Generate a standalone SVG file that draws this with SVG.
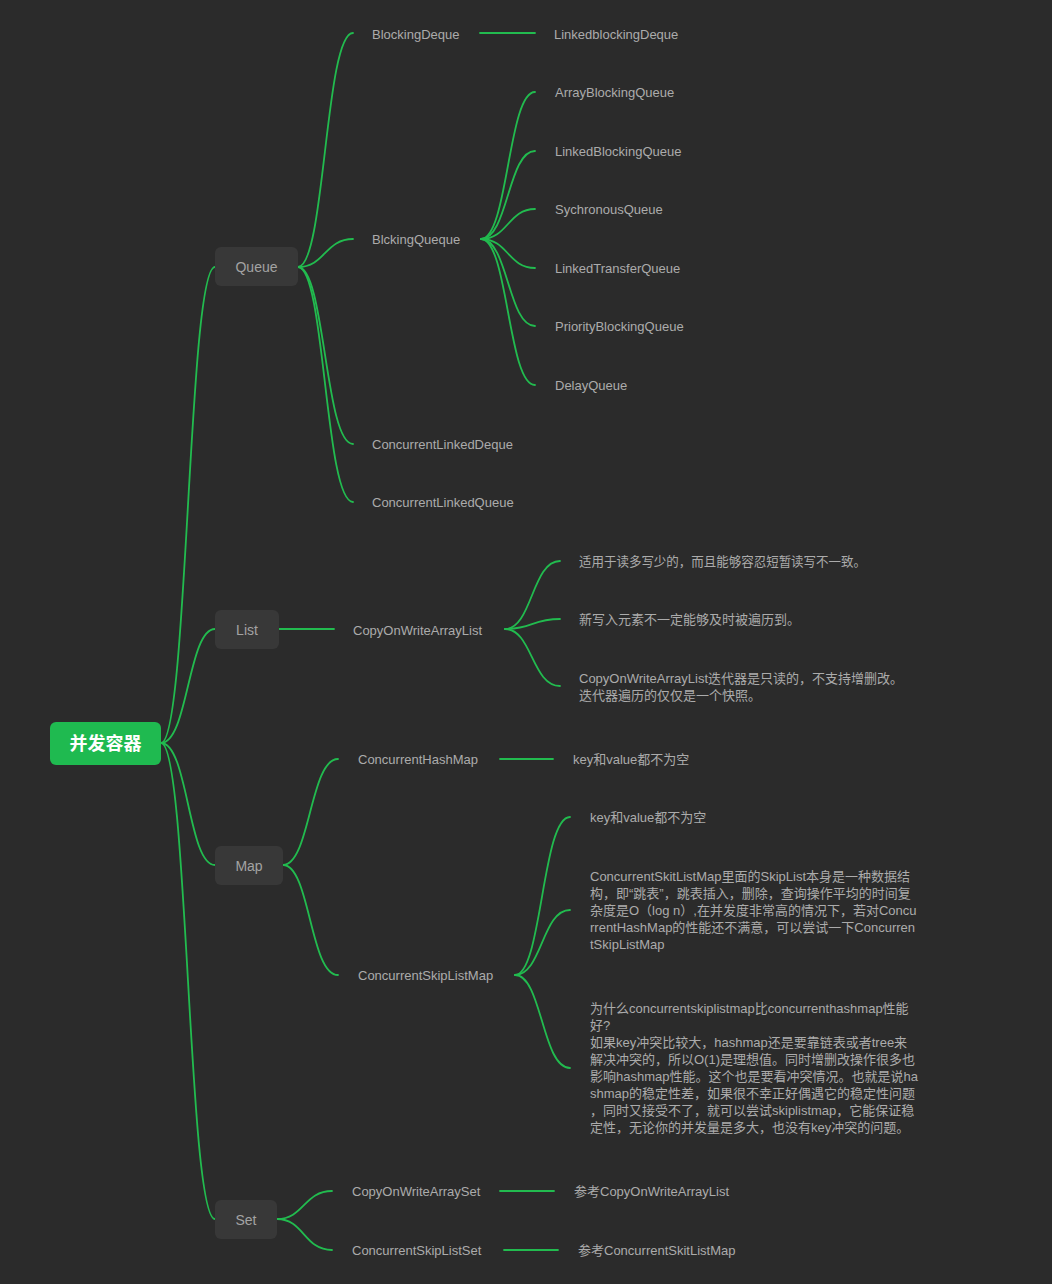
<svg xmlns="http://www.w3.org/2000/svg" width="1052" height="1284" viewBox="0 0 1052 1284">
<style>
.bg{fill:#2b2b2b}
.e{fill:none;stroke:#22bb4f;stroke-width:1.8;stroke-linecap:round}
.box{fill:#383838}
.lbl{font-family:"Liberation Sans","Noto Sans CJK SC",sans-serif;font-size:14px;fill:#a3a3a3}
.t{font-family:"Liberation Sans","Noto Sans CJK SC",sans-serif;font-size:13px;fill:#ababab}
.root{font-family:"Liberation Sans","Noto Sans CJK SC",sans-serif;font-size:18px;font-weight:bold;fill:#ffffff}
</style>
<rect class="bg" x="0" y="0" width="1052" height="1284"/>
<g id="connectors">
<path class="e" d="M161,743 C188,743 188,267 215,267"/>
<path class="e" d="M161,743 C188,743 188,629 215,629"/>
<path class="e" d="M161,743 C188,743 188,865 215,865"/>
<path class="e" d="M161,743 C188,743 188,1219 215,1219"/>
<path class="e" d="M298,267 C325,267 325,33 353,33"/>
<path class="e" d="M298,267 C325,267 325,239 353,239"/>
<path class="e" d="M298,267 C325,267 325,444 353,444"/>
<path class="e" d="M298,267 C325,267 325,502 353,502"/>
<path class="e" d="M480,33 L535,33"/>
<path class="e" d="M481,239 C508,239 508,92 535,92"/>
<path class="e" d="M481,239 C508,239 508,151 535,151"/>
<path class="e" d="M481,239 C508,239 508,209 535,209"/>
<path class="e" d="M481,239 C508,239 508,268 535,268"/>
<path class="e" d="M481,239 C508,239 508,326 535,326"/>
<path class="e" d="M481,239 C508,239 508,385 535,385"/>
<path class="e" d="M279,629 L334,629"/>
<path class="e" d="M505,629 C532,629 532,561 560,561"/>
<path class="e" d="M505,629 C532,629 532,619 560,619"/>
<path class="e" d="M505,629 C532,629 532,686 560,686"/>
<path class="e" d="M283,865 C310,865 310,759 338,759"/>
<path class="e" d="M283,865 C310,865 310,975 338,975"/>
<path class="e" d="M500,759 L553,759"/>
<path class="e" d="M515,975 C542,975 542,817 570,817"/>
<path class="e" d="M515,975 C542,975 542,910 570,910"/>
<path class="e" d="M515,975 C542,975 542,1068 570,1068"/>
<path class="e" d="M277,1219 C304,1219 304,1191 332,1191"/>
<path class="e" d="M277,1219 C304,1219 304,1250 332,1250"/>
<path class="e" d="M500,1191 L554,1191"/>
<path class="e" d="M504,1250 L558,1250"/>
</g>
<g id="root">
<rect x="50" y="722" width="111" height="43" rx="6" fill="#1fba50"/>
<text class="root" x="105.5" y="744" text-anchor="middle" dominant-baseline="central">并发容器</text>
</g>
<g id="queue">
<rect class="box" x="215" y="247" width="83" height="39" rx="6"/>
<text class="lbl" x="256.5" y="267" text-anchor="middle" dominant-baseline="central">Queue</text>
</g>
<g id="list">
<rect class="box" x="215" y="610" width="64" height="39" rx="6"/>
<text class="lbl" x="247" y="630" text-anchor="middle" dominant-baseline="central">List</text>
</g>
<g id="map">
<rect class="box" x="215" y="846" width="68" height="39" rx="6"/>
<text class="lbl" x="249" y="866" text-anchor="middle" dominant-baseline="central">Map</text>
</g>
<g id="set">
<rect class="box" x="215" y="1200" width="62" height="39" rx="6"/>
<text class="lbl" x="246" y="1220" text-anchor="middle" dominant-baseline="central">Set</text>
</g>
<g id="blockingdeque"><text class="t" x="372" y="34" dominant-baseline="central">BlockingDeque</text></g>
<g id="linkedblockingdeque"><text class="t" x="554" y="34" dominant-baseline="central">LinkedblockingDeque</text></g>
<g id="blckingqueue"><text class="t" x="372" y="239" dominant-baseline="central">BlckingQueque</text></g>
<g id="arrayblockingqueue"><text class="t" x="555" y="92" dominant-baseline="central">ArrayBlockingQueue</text></g>
<g id="linkedblockingqueue"><text class="t" x="555" y="151" dominant-baseline="central">LinkedBlockingQueue</text></g>
<g id="sychronousqueue"><text class="t" x="555" y="209" dominant-baseline="central">SychronousQueue</text></g>
<g id="linkedtransferqueue"><text class="t" x="555" y="268" dominant-baseline="central">LinkedTransferQueue</text></g>
<g id="priorityblockingqueue"><text class="t" x="555" y="326" dominant-baseline="central">PriorityBlockingQueue</text></g>
<g id="delayqueue"><text class="t" x="555" y="385" dominant-baseline="central">DelayQueue</text></g>
<g id="concurrentlinkeddeque"><text class="t" x="372" y="444" dominant-baseline="central">ConcurrentLinkedDeque</text></g>
<g id="concurrentlinkedqueue"><text class="t" x="372" y="502" dominant-baseline="central">ConcurrentLinkedQueue</text></g>
<g id="copyonwritearraylist"><text class="t" x="353" y="630" dominant-baseline="central">CopyOnWriteArrayList</text></g>
<g id="list-note1"><text class="t" x="579" y="561" dominant-baseline="central" textLength="287" lengthAdjust="spacingAndGlyphs">适用于读多写少的，而且能够容忍短暂读写不一致。</text></g>
<g id="list-note2"><text class="t" x="579" y="619" dominant-baseline="central">新写入元素不一定能够及时被遍历到。</text></g>
<g id="list-note3"><text class="t" dominant-baseline="central"><tspan x="579" y="678">CopyOnWriteArrayList迭代器是只读的，不支持增删改。</tspan><tspan x="579" y="695">迭代器遍历的仅仅是一个快照。</tspan></text></g>
<g id="concurrenthashmap"><text class="t" x="358" y="759" dominant-baseline="central">ConcurrentHashMap</text></g>
<g id="chm-note"><text class="t" x="573" y="759" dominant-baseline="central">key和value都不为空</text></g>
<g id="concurrentskiplistmap"><text class="t" x="358" y="975" dominant-baseline="central">ConcurrentSkipListMap</text></g>
<g id="cslm-note1"><text class="t" x="590" y="817" dominant-baseline="central">key和value都不为空</text></g>
<g id="cslm-note2"><text class="t" dominant-baseline="central"><tspan x="590" y="876">ConcurrentSkitListMap里面的SkipList本身是一种数据结</tspan><tspan x="590" y="893">构，即“跳表”，跳表插入，删除，查询操作平均的时间复</tspan><tspan x="590" y="910">杂度是O（log n）,在并发度非常高的情况下，若对Concu</tspan><tspan x="590" y="927">rrentHashMap的性能还不满意，可以尝试一下Concurren</tspan><tspan x="590" y="944">tSkipListMap</tspan></text></g>
<g id="cslm-note3"><text class="t" dominant-baseline="central"><tspan x="590" y="1008">为什么concurrentskiplistmap比concurrenthashmap性能</tspan><tspan x="590" y="1025">好?</tspan><tspan x="590" y="1042">如果key冲突比较大，hashmap还是要靠链表或者tree来</tspan><tspan x="590" y="1059">解决冲突的，所以O(1)是理想值。同时增删改操作很多也</tspan><tspan x="590" y="1076">影响hashmap性能。这个也是要看冲突情况。也就是说ha</tspan><tspan x="590" y="1093">shmap的稳定性差，如果很不幸正好偶遇它的稳定性问题</tspan><tspan x="590" y="1110">，同时又接受不了，就可以尝试skiplistmap，它能保证稳</tspan><tspan x="590" y="1127">定性，无论你的并发量是多大，也没有key冲突的问题。</tspan></text></g>
<g id="copyonwritearrayset"><text class="t" x="352" y="1191" dominant-baseline="central">CopyOnWriteArraySet</text></g>
<g id="cowas-note"><text class="t" x="574" y="1191" dominant-baseline="central">参考CopyOnWriteArrayList</text></g>
<g id="concurrentskiplistset"><text class="t" x="352" y="1250" dominant-baseline="central">ConcurrentSkipListSet</text></g>
<g id="csls-note"><text class="t" x="578" y="1250" dominant-baseline="central">参考ConcurrentSkitListMap</text></g>
</svg>
